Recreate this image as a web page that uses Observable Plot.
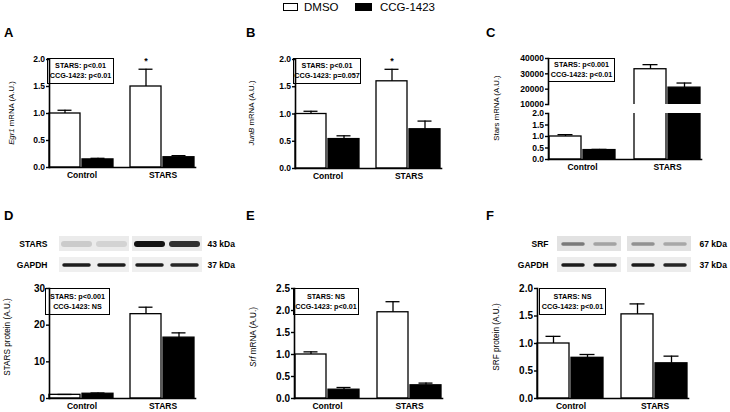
<!DOCTYPE html>
<html><head><meta charset="utf-8">
<script src="https://cdn.jsdelivr.net/npm/d3@7"></script>
<script src="https://cdn.jsdelivr.net/npm/@observablehq/plot@0.6"></script>
<style>
body{margin:0;background:#fff;font-family:"Liberation Sans",Arial,Helvetica,sans-serif;}
#root{position:relative;width:730px;height:412px;overflow:hidden;background:#fff;}
.abs{position:absolute;}
.letter{position:absolute;font-weight:bold;font-size:13px;line-height:13px;}
.stat{position:absolute;border:1.3px solid #000;font-weight:bold;font-size:7.2px;text-align:center;line-height:10px;box-sizing:border-box;display:flex;flex-direction:column;justify-content:center;white-space:nowrap;}
.leg{position:absolute;font-size:11.5px;line-height:12px;top:1px;}
.sw{position:absolute;box-sizing:border-box;border:1.3px solid #000;}
</style></head>
<body><div id="root"></div>
<script>
// ---------- data ----------
const groups = ["Control", "STARS"];
const treatments = ["DMSO", "CCG-1423"];
// order in each array: Control-DMSO, Control-CCG, STARS-DMSO, STARS-CCG
const egr1Mean = [1.00, 0.15, 1.50, 0.19];
const egr1Sem  = [0.06, 0.02, 0.32, 0.03];
const egr1Sig  = ["", "", "*", ""];
const junbMean = [1.00, 0.54, 1.60, 0.72];
const junbSem  = [0.05, 0.06, 0.22, 0.15];
const junbSig  = ["", "", "*", ""];
const starsMrnaMean = [1.00, 0.41, 33000, 21000];
const starsMrnaSem  = [0.08, 0.03, 3000, 3000];
const starsProtMean = [1.0, 1.3, 23.0, 16.6];
const starsProtSem  = [0.1, 0.2, 1.9, 1.3];
const srfMrnaMean = [1.00, 0.20, 1.96, 0.30];
const srfMrnaSem  = [0.06, 0.05, 0.24, 0.05];
const srfProtMean = [1.00, 0.74, 1.53, 0.64];
const srfProtSem  = [0.13, 0.06, 0.19, 0.13];

const ticks2 = [0, 0.5, 1.0, 1.5, 2.0];
const ticksCTop = [10000, 20000, 30000, 40000];
const ticksD = [0, 10, 20, 30];
const ticksE = [0, 0.5, 1.0, 1.5, 2.0, 2.5];

const statA = ["STARS: p<0.01", "CCG-1423: p<0.01"];
const statB = ["STARS: p<0.01", "CCG-1423: p=0.057"];
const statC = ["STARS: p<0.001", "CCG-1423: p<0.01"];
const statD = ["STARS: p<0.001", "CCG-1423: NS"];
const statE = ["STARS: NS", "CCG-1423: p<0.01"];
const statF = ["STARS: NS", "CCG-1423: p<0.01"];

const blotDRows = ["STARS", "GAPDH"];
const blotDKda = ["43 kDa", "37 kDa"];
const blotDStars = [0.14, 0.11, 1.0, 0.85];
const blotDGapdh = [0.95, 0.95, 0.95, 0.9];
const blotFRows = ["SRF", "GAPDH"];
const blotFKda = ["67 kDa", "37 kDa"];
const blotFSrf = [0.5, 0.3, 0.38, 0.28];
const blotFGapdh = [0.95, 0.95, 0.95, 0.9];

// ---------- helpers ----------
const FONT = '"Liberation Sans", Arial, Helvetica, sans-serif';
const root = document.getElementById("root");

function place(node, left, top) {
  const d = document.createElement("div");
  d.className = "abs";
  d.style.left = left + "px"; d.style.top = top + "px";
  d.appendChild(node);
  root.appendChild(d);
  return d;
}
function html(cls, text, css) {
  const d = document.createElement("div");
  d.className = cls;
  if (text != null) d.textContent = text;
  Object.assign(d.style, css);
  root.appendChild(d);
  return d;
}
function table(means, sems, sig) {
  const out = [];
  groups.forEach((g, gi) => treatments.forEach((t, ti) => {
    const i = gi * 2 + ti;
    out.push({group: g, treatment: t, mean: means[i], top: means[i] + sems[i], sig: sig ? sig[i] : ""});
  }));
  return out;
}

function barPlot(o) {
  const data = table(o.means, o.sems, o.sig);
  const dmso = data.filter(d => d.treatment === "DMSO");
  const ccg = data.filter(d => d.treatment !== "DMSO");
  const clip = !!o.clip;
  const c = {fx: "group", x: "treatment"};
  const marks = [
    Plot.barY(dmso, {...c, y: "mean", fill: "white", stroke: "black", strokeWidth: 1.3, clip}),
    Plot.barY(ccg, {...c, y: "mean", fill: "black", stroke: "black", strokeWidth: 1.3, clip}),
    Plot.ruleX(data, {...c, y1: "mean", y2: "top", stroke: "black", strokeWidth: 1.3, clip}),
    Plot.tickY(data, {...c, y: "top", stroke: "black", strokeWidth: 1.3, insetLeft: 8.5, insetRight: 8.5, clip}),
    Plot.text(data.filter(d => d.sig), {...c, y: "top", text: "sig", dy: -8, fontSize: 9, fontWeight: "bold"}),
    Plot.axisY({ticks: o.ticks, tickFormat: o.tickFormat, tickSize: 3, tickPadding: 1.5, strokeWidth: 1.4,
      fontSize: o.tickFont, fontWeight: "bold", label: null}),
    Plot.frame({anchor: "left", facet: "super", strokeWidth: 1.6})
  ];
  if (o.xAxis !== false) {
    marks.push(Plot.frame({anchor: "bottom", facet: "super", strokeWidth: 1.6}));
    marks.push(Plot.axisFx({anchor: "bottom", tickSize: 0, tickPadding: 4, fontSize: 8.5, fontWeight: "bold", label: null}));
  }
  const svg = Plot.plot({
    width: o.width, height: o.height,
    marginLeft: o.ml, marginRight: o.mr, marginTop: o.mt, marginBottom: o.mb,
    style: {fontFamily: FONT, background: "transparent", overflow: "visible", color: "black"},
    fx: {domain: groups, paddingInner: 0.2, paddingOuter: 0.1, label: null, axis: null},
    x: {domain: treatments, paddingInner: 0.05, paddingOuter: 0, axis: null},
    y: {domain: o.yDomain, label: null, axis: null},
    marks
  });
  if (o.label) {
    const t = d3.select(svg).append("text")
      .attr("transform", `translate(${o.labelX},${o.labelY}) rotate(-90)`)
      .attr("text-anchor", "middle").attr("dominant-baseline", "middle")
      .attr("font-family", FONT).attr("font-size", o.labelFont).attr("fill", "black");
    o.label.forEach(([s, it]) => t.append("tspan").attr("font-style", it ? "italic" : null).text(s));
  }
  place(svg, o.left, o.top);
  return svg;
}

function blotPlot(o) {
  const data = [];
  o.rows.forEach((r, ri) => groups.forEach((g, gi) => treatments.forEach((t, ti) =>
    data.push({row: r, group: g, treatment: t, v: o.intens[ri][gi * 2 + ti]}))));
  const marks = [];
  o.rows.forEach((r, ri) => {
    const dr = data.filter(d => d.row === r);
    marks.push(Plot.cell(dr, {fx: "group", x: "treatment", y: "row", fill: o.bg[ri]}));
    marks.push(Plot.tickY(dr, {fx: "group", x: "treatment", y: "row", stroke: "#111", strokeOpacity: "v",
      strokeWidth: o.bandW[ri], insetLeft: o.inset, insetRight: o.inset, strokeLinecap: "round", imageFilter: "blur(0.7px)"}));
  });
  marks.push(Plot.axisY({anchor: "left", tickSize: 0, tickPadding: o.padL, fontSize: 8.5, fontWeight: "bold", label: null}));
  marks.push(Plot.axisY({anchor: "right", tickSize: 0, tickPadding: o.padR, fontSize: 8.5, fontWeight: "bold",
    tickFormat: d => o.kda[o.rows.indexOf(d)], label: null}));
  const svg = Plot.plot({
    width: o.width, height: o.height,
    marginLeft: o.ml, marginRight: o.mr, marginTop: o.mt, marginBottom: o.mb,
    style: {fontFamily: FONT, background: "transparent", overflow: "visible", color: "black"},
    fx: {domain: groups, paddingInner: o.gap, paddingOuter: 0, axis: null, label: null},
    x: {domain: treatments, padding: 0, axis: null},
    y: {domain: o.rows, paddingInner: 0.3, paddingOuter: 0, label: null, axis: null},
    marks
  });
  place(svg, o.left, o.top);
}

function stat(lines, left, top, w, h) {
  const d = html("stat", null, {left: left + "px", top: top + "px", width: w + "px", height: h + "px"});
  lines.forEach(l => { const s = document.createElement("div"); s.textContent = l; d.appendChild(s); });
}

// ---------- legend ----------
html("sw", null, {left: "283px", top: "3px", width: "15px", height: "8px", background: "#fff"});
html("leg", "DMSO", {left: "304px"});
html("sw", null, {left: "355px", top: "3px", width: "17px", height: "8px", background: "#000"});
html("leg", "CCG-1423", {left: "380px"});

// ---------- panel letters ----------
[["A", 4, 26], ["B", 246, 26], ["C", 486, 26], ["D", 4, 209], ["E", 246, 209], ["F", 486, 209]]
  .forEach(([t, x, y]) => html("letter", t, {left: x + "px", top: y + "px"}));

const fmt1 = d3.format(".1f");

// A
barPlot({left: 0, top: 40, width: 240, height: 160, ml: 40, mr: 37, mt: 19, mb: 33,
  means: egr1Mean, sems: egr1Sem, sig: egr1Sig, yDomain: [0, 2], ticks: ticks2, tickFormat: fmt1, tickFont: 8.5,
  label: [["Egr1", true], [" mRNA (A.U.)", false]], labelX: 12, labelY: 73, labelFont: 7.8});
stat(statA, 47, 58, 67, 26);

// B
barPlot({left: 240, top: 40, width: 245, height: 160, ml: 46, mr: 36, mt: 19, mb: 32,
  means: junbMean, sems: junbSem, sig: junbSig, yDomain: [0, 2], ticks: ticks2, tickFormat: fmt1, tickFont: 8.5,
  label: [["JunB", true], [" mRNA (A.U.)", false]], labelX: 12, labelY: 73, labelFont: 7.8});
stat(statB, 293, 58, 68, 26);

// C (broken axis: two stacked segments)
barPlot({left: 480, top: 40, width: 250, height: 70, ml: 59, mr: 20, mt: 18, mb: 6, clip: true, xAxis: false,
  means: starsMrnaMean, sems: starsMrnaSem, yDomain: [10000, 40000], ticks: ticksCTop, tickFormat: d3.format("d"), tickFont: 8.5,
  label: [["Stars mRNA (A.U.)", false]], labelX: 17, labelY: 68, labelFont: 7.8});
barPlot({left: 480, top: 110, width: 250, height: 90, ml: 59, mr: 20, mt: 3, mb: 41, clip: true,
  means: starsMrnaMean, sems: starsMrnaSem, yDomain: [0, 2], ticks: ticks2, tickFormat: fmt1, tickFont: 8.5});
stat(statC, 548, 58, 67, 24);

// D
blotPlot({left: 0, top: 228, width: 240, height: 50, ml: 58, mr: 38, mt: 8, mb: 6, gap: 0.03,
  rows: blotDRows, kda: blotDKda, intens: [blotDStars, blotDGapdh], bg: ["#ebebeb", "#efefef"], bandW: [6, 3.5],
  inset: 5, padL: 11, padR: 5});
barPlot({left: 0, top: 280, width: 240, height: 132, ml: 41, mr: 37, mt: 8, mb: 14,
  means: starsProtMean, sems: starsProtSem, yDomain: [0, 30], ticks: ticksD, tickFormat: d3.format("d"), tickFont: 10,
  label: [["STARS protein (A.U.)", false]], labelX: 8, labelY: 57, labelFont: 8.2});
stat(statD, 45, 288, 65, 27);

// E
barPlot({left: 240, top: 280, width: 245, height: 132, ml: 45, mr: 35, mt: 8, mb: 14,
  means: srfMrnaMean, sems: srfMrnaSem, yDomain: [0, 2.5], ticks: ticksE, tickFormat: fmt1, tickFont: 10,
  label: [["Srf", true], [" mRNA (A.U.)", false]], labelX: 14, labelY: 57, labelFont: 8.2});
stat(statE, 293, 288, 66, 27);

// F
blotPlot({left: 480, top: 228, width: 250, height: 50, ml: 75, mr: 38, mt: 8, mb: 6, gap: 0.07,
  rows: blotFRows, kda: blotFKda, intens: [blotFSrf, blotFGapdh], bg: ["#e2e2e2", "#ececec"], bandW: [3.5, 3.5],
  inset: 6, padL: 8, padR: 8});
barPlot({left: 480, top: 280, width: 250, height: 132, ml: 49, mr: 33, mt: 8, mb: 14,
  means: srfProtMean, sems: srfProtSem, yDomain: [0, 2], ticks: ticks2, tickFormat: fmt1, tickFont: 10,
  label: [["SRF protein (A.U.)", false]], labelX: 17, labelY: 57, labelFont: 8.2});
stat(statF, 539, 288, 67, 27);
</script>
</body></html>
